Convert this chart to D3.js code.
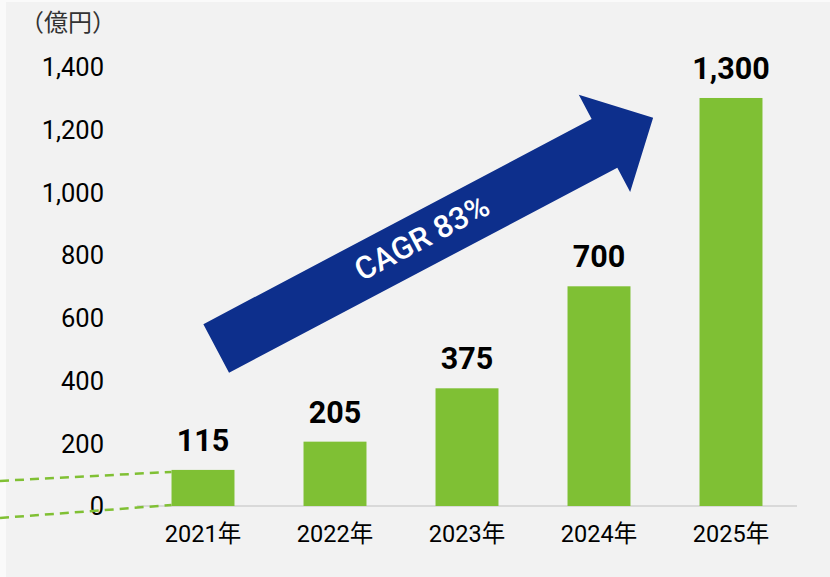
<!DOCTYPE html>
<html><head><meta charset="utf-8">
<script src="https://cdn.jsdelivr.net/npm/d3@7"></script>
<style>html,body{margin:0;padding:0;background:#fafafa;}svg{display:block;}</style>
</head><body>
<script>
const categories = ["2021年","2022年","2023年","2024年","2025年"];
const values = [115, 205, 375, 700, 1300];
const valueLabels = ["115","205","375","700","1,300"];
const yTicks = [0, 200, 400, 600, 800, 1000, 1200, 1400];
const yTickLabels = ["0","200","400","600","800","1,000","1,200","1,400"];
const unitLabel = "（億円）";
const cagrLabel = "CAGR 83%";
// arrow anchors in data space: [category index offset, value]
const arrowTail = [0.1, 502];
const arrowTip = [3.41, 1237];

const W = 830, H = 577;
const svg = d3.select("body").append("svg").attr("width", W).attr("height", H);
svg.append("rect").attr("x", 6).attr("y", 2).attr("width", W - 6).attr("height", H - 2).attr("fill", "#f2f2f2");

const x = d3.scaleBand().domain(categories).range([137, 797]).paddingInner(0.523).paddingOuter(0.2615);
const y = d3.scaleLinear().domain([0, 1400]).range([506, 66.6]);
const font = "Roboto, 'Noto Sans CJK JP', sans-serif";

// baseline
svg.append("line").attr("x1", 137).attr("x2", 797).attr("y1", y(0)).attr("y2", y(0))
  .attr("stroke", "#d9d9d9").attr("stroke-width", 2);

// y axis labels
const yAxis = d3.axisLeft(y).tickValues(yTicks).tickFormat((d, i) => yTickLabels[i]).tickSize(0).tickPadding(0);
const ya = svg.append("g").attr("transform", "translate(104,0)").call(yAxis);
ya.select(".domain").remove();
ya.selectAll("text").attr("font-family", font).attr("font-size", 25.5).attr("fill", "#000").attr("dy", "0.35em");

// x axis labels
const xAxis = d3.axisBottom(x).tickSize(0).tickPadding(0);
const xa = svg.append("g").attr("transform", `translate(0,${y(0)})`).call(xAxis);
xa.select(".domain").remove();
xa.selectAll("text").attr("font-family", font).attr("font-size", 23.5).attr("fill", "#000").attr("dy", null).attr("y", 36);

// unit label
svg.append("text").attr("x", 116).attr("y", 31).attr("text-anchor", "end")
  .attr("font-family", "'Noto Sans CJK JP', sans-serif").attr("font-size", 24).attr("fill", "#333").text(unitLabel);

// dashed zoom lines to first bar
const b0 = x(categories[0]);
const dashG = svg.append("g").attr("stroke", "#80c034").attr("stroke-width", 2.5).attr("stroke-dasharray", "9,6");
dashG.append("line").attr("x1", 0).attr("y1", y(values[0]) + 11).attr("x2", b0).attr("y2", y(values[0]) + 2);
dashG.append("line").attr("x1", 0).attr("y1", y(0) + 12).attr("x2", b0).attr("y2", y(0) - 1);

// bars
svg.selectAll("rect.bar").data(values).enter().append("rect").attr("class", "bar")
  .attr("x", (d, i) => x(categories[i])).attr("width", x.bandwidth())
  .attr("y", d => y(d)).attr("height", d => y(0) - y(d)).attr("fill", "#7fc034");

// value labels
svg.selectAll("text.val").data(values).enter().append("text").attr("class", "val")
  .attr("x", (d, i) => x(categories[i]) + x.bandwidth() / 2).attr("y", d => y(d) - 19)
  .attr("text-anchor", "middle").attr("font-family", font).attr("font-weight", "bold")
  .attr("font-size", 30.5).attr("fill", "#000").text((d, i) => valueLabels[i]);

// arrow
const cx = i => x(categories[0]) + x.bandwidth() / 2 + i * x.step();
const tx = cx(arrowTail[0]), ty = y(arrowTail[1]);
const px = cx(arrowTip[0]), py = y(arrowTip[1]);
const len = Math.hypot(px - tx, py - ty);
const ang = Math.atan2(py - ty, px - tx) * 180 / Math.PI;
const shaftH = 27.5, headH = 55, headL = 55;
const ag = svg.append("g").attr("transform", `translate(${tx},${ty}) rotate(${ang})`);
ag.append("path").attr("fill", "#0d2f8c")
  .attr("d", `M0,${-shaftH}L${len - headL},${-shaftH}L${len - headL},${-headH}L${len},0L${len - headL},${headH}L${len - headL},${shaftH}L0,${shaftH}Z`);
ag.append("text").attr("x", (len - headL) / 2 + 14).attr("y", -2).attr("dy", "0.35em")
  .attr("text-anchor", "middle").attr("font-family", font).attr("font-weight", 500).attr("font-size", 31).attr("fill", "#fff").text(cagrLabel);
</script>
</body></html>
